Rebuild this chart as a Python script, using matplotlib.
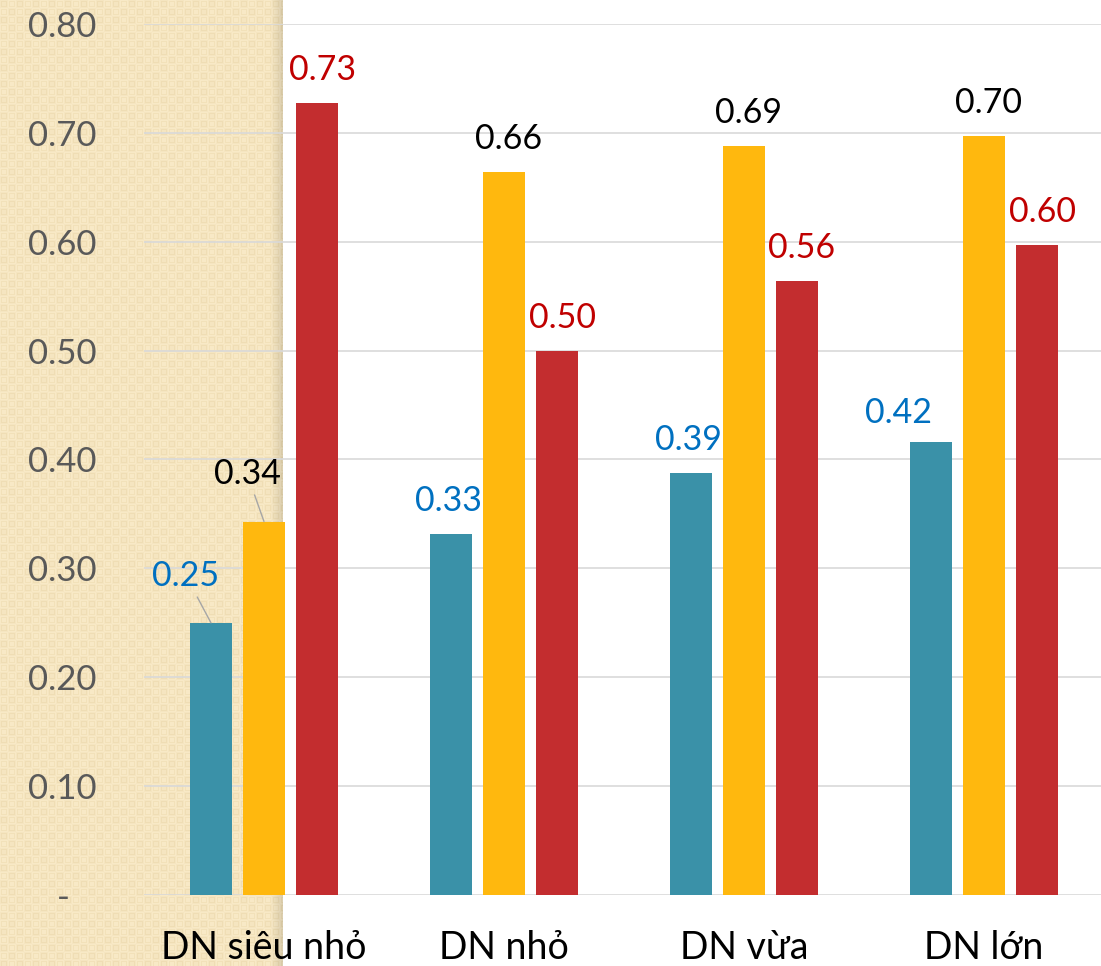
import numpy as np
import matplotlib
matplotlib.use("Agg")
import matplotlib.pyplot as plt

plt.rcParams['font.family'] = ['Lato', 'DejaVu Sans']

# Data
categories = ["DN siêu nhỏ", "DN nhỏ", "DN vừa", "DN lớn"]
series_a = [0.250, 0.332, 0.388, 0.416]   # teal bars
series_b = [0.343, 0.664, 0.688, 0.697]   # yellow bars
series_c = [0.727, 0.500, 0.564, 0.597]   # red bars
y_ticks = [0.0, 0.1, 0.2, 0.3, 0.4, 0.5, 0.6, 0.7, 0.8]
y_tick_labels = ["-   ", "0.10", "0.20", "0.30", "0.40", "0.50", "0.60", "0.70", "0.80"]

W, H, DPI = 1101, 966, 100
fig = plt.figure(figsize=(W / DPI, H / DPI), dpi=DPI, facecolor="white")

# Beige textured panel on the left with a soft shadow at its right edge
panel_w = 283
yy, xx = np.mgrid[0:H, 0:panel_w]
base = np.array([248, 233, 198], dtype=float) / 255
dark = np.array([238, 220, 177], dtype=float) / 255
p, q = xx % 8, yy % 8
ring = ((p == 1) | (p == 6)) & (q >= 1) & (q <= 6) | ((q == 1) | (q == 6)) & (p >= 1) & (p <= 6)
cell = ((xx // 8 + yy // 8) % 2 == 0)
mix = np.where(ring, 0.6, 0.0) + np.where(cell, 0.25, 0.0)
img = base[None, None, :] * (1 - mix[..., None]) + dark[None, None, :] * mix[..., None]
shade = np.clip((xx - 270) / 13.0, 0, 1)
img = img * (1 - 0.12 * shade[..., None])
bg = fig.add_axes([0, 0, panel_w / W, 1], zorder=0)
bg.imshow(img, aspect="auto", interpolation="nearest")
bg.axis("off")

# Main chart
left_px, right_px = 144, 1104
bottom_px, top_px = 895, 24
ax = fig.add_axes([left_px / W, 1 - bottom_px / H,
                   (right_px - left_px) / W, (bottom_px - top_px) / H], zorder=1)
ax.set_facecolor("none")

x = np.arange(len(categories))
bw = 0.175
step = 0.221
col_a, col_b, col_c = "#3A91A8", "#FFB80E", "#C32D2F"
bars_a = ax.bar(x - step, series_a, bw, color=col_a, zorder=3)
bars_b = ax.bar(x, series_b, bw, color=col_b, zorder=3)
bars_c = ax.bar(x + step, series_c, bw, color=col_c, zorder=3)

ax.set_xlim(-0.5, 3.5)
ax.set_ylim(0, 0.8)
ax.set_yticks(y_ticks)
ax.set_yticklabels(y_tick_labels)
ax.set_xticks(x)
ax.set_xticklabels(categories)
ax.tick_params(axis="y", length=0, pad=34, labelsize=25, labelcolor="#595959")
ax.tick_params(axis="x", length=0, pad=25, labelsize=27, labelcolor="black")
ax.yaxis.grid(True, color="#D9D9D9", linewidth=1.2, zorder=0)
ax.set_axisbelow(True)
for s in ax.spines.values():
    s.set_visible(False)
for lbl in ax.get_xticklabels() + ax.get_yticklabels():
    lbl.set_clip_on(False)

lab_a, lab_b, lab_c = "#0070C0", "black", "#C00000"
label_size = 24.5

def pt(px):
    return px * 72 / DPI

def put_label(bar, value, color, dx=5, dy=33, leader=False):
    cx = bar.get_x() + bar.get_width() / 2
    kw = dict(ha="center", va="center", fontsize=label_size, color=color,
              textcoords="offset points", zorder=5, annotation_clip=False)
    if leader:
        kw["arrowprops"] = dict(arrowstyle="-", color="#A6A6A6", lw=1.0,
                                shrinkA=2, shrinkB=0)
    ax.annotate(f"{value:.2f}", xy=(cx, value), xytext=(pt(dx), pt(dy)), **kw)

for i, (ba, bb, bc) in enumerate(zip(bars_a, bars_b, bars_c)):
    if i == 0:
        put_label(ba, series_a[i], lab_a, dx=-25, dy=47, leader=True)
        put_label(bb, series_b[i], lab_b, dx=-17, dy=48, leader=True)
    elif i == 3:
        put_label(ba, series_a[i], lab_a, dx=-32, dy=29)
        put_label(bb, series_b[i], lab_b)
    else:
        put_label(ba, series_a[i], lab_a, dx=-3)
        put_label(bb, series_b[i], lab_b)
    put_label(bc, series_c[i], lab_c)

fig.savefig("out.png", dpi=DPI, facecolor="white")
